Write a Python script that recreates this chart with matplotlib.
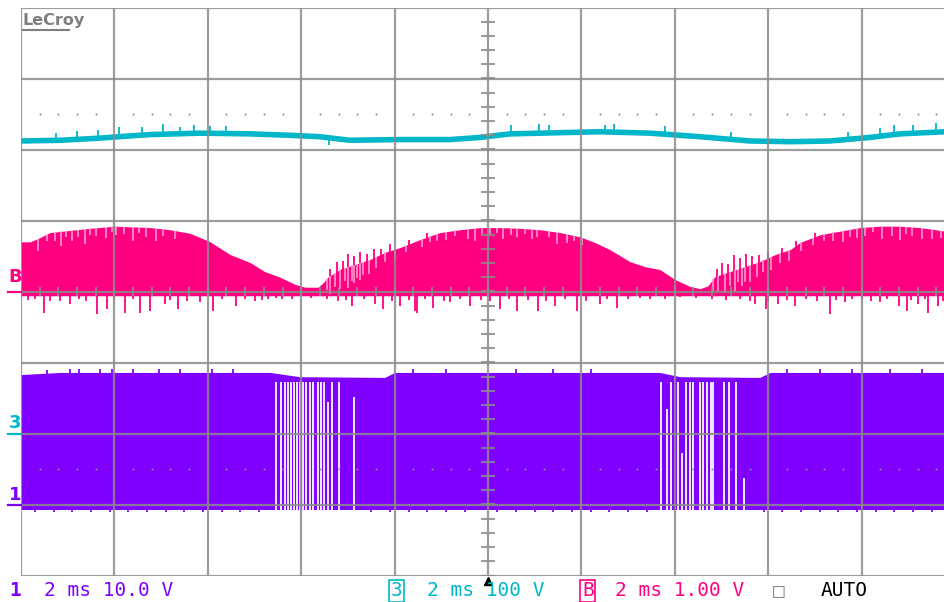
import numpy as np
import matplotlib.pyplot as plt
from matplotlib.collections import LineCollection

# scope settings: 2 ms/div, 10 x 8 divisions
ms_per_div = 2.0
pink_scale, pink_gnd = 1.0, 0.0      # trace B, 1.00 V/div
cyan_scale, cyan_gnd = 100.0, -2.0   # trace 3, 100 V/div
purp_scale, purp_gnd = 10.0, -3.0    # trace 1, 10.0 V/div

# trace 3 (cyan) - level in volts
cyan_t = [0.00, 0.84, 1.69, 2.30, 2.76, 3.83, 4.90, 5.76, 6.40, 7.04, 8.12, 9.19,
          9.83, 10.47, 11.11, 12.40, 13.47, 14.54, 15.61, 16.47, 17.32, 18.18, 18.82, 19.79]
cyan_v = [412, 413, 416, 419, 421, 423, 422, 420, 418, 413, 414, 414,
          417, 422, 423, 425, 423, 418, 412, 411, 412, 417, 422, 425]
cyan_spike_t = [0.75, 1.20, 1.65, 2.10, 2.60, 3.05, 3.40, 3.70, 4.05, 4.40, 6.60, 10.50,
                11.10, 11.30, 12.50, 12.70, 13.80, 15.20, 17.70, 18.40, 18.70, 19.10, 19.60]
cyan_spike_dv = [6, 8, 7, 9, 7, 10, 6, 8, 6, 7, -6, 8, 9, 7, 6, 8, 7, 6, 7, 8, 10, 7, 9]

# trace B (pink) - top of the switching envelope in volts
pink_t = [0.00, 0.20, 0.41, 0.62, 1.05, 1.48, 2.01, 2.76, 3.19, 3.62, 4.05, 4.48, 4.90,
          5.22, 5.55, 5.87, 6.08, 6.36, 6.45, 6.57, 6.83, 7.15, 7.47, 7.79, 8.12, 8.54,
          8.97, 9.40, 9.83, 10.26, 10.69, 11.11, 11.54, 11.97, 12.29, 12.61, 13.04, 13.36,
          13.68, 14.00, 14.33, 14.54, 14.71, 14.86, 15.18, 15.50, 15.82, 16.15, 16.47,
          16.68, 17.11, 17.54, 17.97, 18.39, 18.82, 19.25, 19.79]
pink_v = [0.70, 0.70, 0.76, 0.83, 0.86, 0.89, 0.92, 0.90, 0.87, 0.82, 0.70, 0.52, 0.41,
          0.28, 0.20, 0.10, 0.06, 0.06, 0.11, 0.20, 0.31, 0.38, 0.45, 0.55, 0.62, 0.73,
          0.83, 0.87, 0.90, 0.90, 0.89, 0.87, 0.83, 0.77, 0.69, 0.59, 0.42, 0.35,
          0.31, 0.17, 0.07, 0.04, 0.08, 0.21, 0.28, 0.35, 0.42, 0.52, 0.59,
          0.69, 0.80, 0.85, 0.90, 0.92, 0.92, 0.90, 0.85]
pink_base = -0.06
pink_spike_t = [0.49, 0.84, 1.05, 1.63, 1.84, 2.23, 2.55, 2.76, 3.08, 3.36, 3.83, 4.11,
                4.60, 5.01, 5.29, 5.59, 6.79, 7.09, 7.58, 7.75, 8.12, 8.44, 8.48, 8.82,
                9.19, 9.61, 10.26, 10.62, 11.07, 11.43, 11.91, 12.40, 12.76, 13.47, 14.11,
                15.61, 15.72, 15.95, 16.21, 16.57, 17.32, 17.64, 18.01, 18.39, 18.80,
                18.97, 19.21, 19.42, 19.64]
pink_spike_v = [-0.30, -0.14, -0.18, -0.32, -0.24, -0.30, -0.30, -0.28, -0.18, -0.25,
                -0.15, -0.27, -0.21, -0.13, -0.11, -0.10, -0.14, -0.20, -0.17, -0.25,
                -0.20, -0.28, -0.30, -0.23, -0.15, -0.20, -0.25, -0.28, -0.28, -0.20,
                -0.28, -0.18, -0.23, -0.11, -0.08, -0.14, -0.18, -0.25, -0.18, -0.21,
                -0.32, -0.15, -0.11, -0.15, -0.21, -0.28, -0.18, -0.30, -0.20]
# short ticks just under the baseline
small_spike_t = [0.15, 0.30, 0.62, 1.25, 1.40, 2.00, 2.40, 3.20, 3.55, 4.30, 4.80, 5.15,
                 5.45, 5.80, 6.20, 6.55, 6.95, 7.35, 7.95, 8.30, 8.65, 9.05, 9.40, 9.85,
                 10.05, 10.45, 10.85, 11.25, 11.65, 12.10, 12.55, 13.00, 13.25, 13.80,
                 14.45, 14.80, 15.10, 15.40, 16.00, 16.40, 16.80, 17.05, 17.45, 17.80,
                 18.20, 18.55, 19.05, 19.35, 19.75]
small_spike_v = [-0.12, -0.10, -0.13, -0.11, -0.14, -0.12, -0.10, -0.12, -0.14, -0.11,
                 -0.10, -0.12, -0.09, -0.10, -0.09, -0.10, -0.12, -0.11, -0.13, -0.12,
                 -0.10, -0.14, -0.11, -0.12, -0.13, -0.10, -0.12, -0.14, -0.11, -0.13,
                 -0.10, -0.11, -0.09, -0.10, -0.09, -0.11, -0.12, -0.10, -0.13, -0.12,
                 -0.11, -0.14, -0.12, -0.10, -0.13, -0.11, -0.12, -0.10, -0.13]
# spikes poking above the envelope on the rising edges
up_spike_t = [6.62, 6.76, 6.90, 7.00, 7.12, 7.25, 7.40, 7.55, 7.70, 7.90, 8.30, 8.70,
              14.90, 15.02, 15.14, 15.26, 15.40, 15.52, 15.66, 15.80, 16.00, 16.30,
              16.60, 17.00]
up_spike_dv = [0.10, 0.14, 0.10, 0.18, 0.12, 0.15, 0.10, 0.12, 0.08, 0.10, 0.06, 0.05,
               0.10, 0.16, 0.12, 0.22, 0.14, 0.18, 0.12, 0.10, 0.08, 0.06, 0.06, 0.05]
# light gaps cut into the top of the pink envelope: time, depth (V)
notch_t = [0.36, 0.55, 0.73, 0.85, 0.97, 1.09, 1.22, 1.37, 1.48, 1.60, 1.82, 1.95, 2.04,
           2.20, 2.39, 2.52, 2.68, 2.90, 3.05, 3.30,
           6.55, 6.62, 6.72, 6.83, 6.94, 7.00, 7.09, 7.13, 7.19, 7.26, 7.32, 7.45, 7.60,
           7.80, 8.00, 8.25,
           8.59, 8.75, 8.91, 9.10, 9.30, 9.57, 9.72, 9.87, 10.04, 10.20, 10.32, 10.50,
           10.62, 10.80, 10.94, 11.05, 11.30, 11.48, 11.69, 11.85, 12.01,
           14.82, 14.93, 15.08, 15.18, 15.29, 15.35, 15.44, 15.50, 15.61, 15.76, 15.88,
           16.05, 16.25, 16.45, 16.70, 16.95,
           17.20, 17.39, 17.60, 17.75, 17.90, 18.07, 18.25, 18.44, 18.65, 18.82, 18.95,
           19.08, 19.29, 19.50, 19.70]
notch_d = [0.18, 0.10, 0.12, 0.20, 0.08, 0.15, 0.10, 0.22, 0.10, 0.12, 0.16, 0.08, 0.12,
           0.10, 0.20, 0.08, 0.14, 0.18, 0.10, 0.12,
           0.16, 0.25, 0.20, 0.28, 0.18, 0.30, 0.22, 0.26, 0.20, 0.24, 0.18, 0.20, 0.16,
           0.14, 0.12, 0.10,
           0.12, 0.08, 0.10, 0.12, 0.08, 0.14, 0.18, 0.12, 0.10, 0.08, 0.16, 0.10,
           0.12, 0.08, 0.14, 0.10, 0.08, 0.16, 0.12, 0.08, 0.10,
           0.18, 0.22, 0.28, 0.20, 0.30, 0.18, 0.26, 0.22, 0.24, 0.20, 0.16,
           0.18, 0.14, 0.16, 0.12, 0.10,
           0.10, 0.12, 0.16, 0.10, 0.14, 0.12, 0.08, 0.18, 0.14, 0.20, 0.10,
           0.12, 0.16, 0.14, 0.10]

# trace 1 (purple) - gate drive band in volts
purp_t = [0.00, 0.84, 5.33, 5.97, 7.79, 8.00, 13.68, 14.11, 15.82, 16.04, 19.79]
purp_top = [18.3, 18.6, 18.6, 18.0, 17.9, 18.6, 18.6, 18.0, 17.9, 18.6, 18.6]
purp_bottom = -0.7
# switching pauses (white gaps): time, top of gap (V)
gap_t = [5.46, 5.56, 5.65, 5.72, 5.78, 5.85, 5.91, 5.97, 6.03, 6.10, 6.19, 6.26, 6.37,
         6.42, 6.49, 6.58, 6.67, 6.80, 7.13,
         13.70, 13.83, 13.91, 14.07, 14.16, 14.25, 14.33, 14.40, 14.54, 14.61, 14.70,
         14.78, 14.82, 15.06, 15.17, 15.31, 15.49]
gap_top = [17.3, 17.3, 17.3, 17.3, 17.3, 17.3, 17.3, 17.3, 17.3, 17.3, 17.3, 17.3, 17.3,
           17.3, 17.3, 14.4, 17.3, 17.3, 15.2,
           17.3, 13.4, 17.3, 17.3, 7.3, 17.3, 17.3, 17.3, 17.3, 17.3, 17.3,
           17.3, 17.3, 17.3, 17.3, 17.3, 3.8]
# little ticks sticking out of the band's top and bottom edges
purp_tick_t = [0.55, 1.05, 1.25, 1.70, 1.95, 2.40, 2.95, 3.40, 4.10, 4.55, 8.40, 9.10,
               10.60, 11.40, 12.20, 16.40, 17.10, 17.80, 18.60, 19.30]
purp_bot_tick_t = [0.30, 0.70, 1.10, 1.50, 1.90, 2.30, 2.70, 3.10, 3.50, 3.90, 4.30, 4.70,
                   5.10, 7.50, 7.90, 8.30, 8.70, 9.10, 9.50, 10.20, 10.60, 11.00, 11.40,
                   11.80, 12.20, 12.60, 13.00, 13.40, 15.90, 16.30, 16.70, 17.10, 17.50,
                   17.90, 18.30, 18.70, 19.10, 19.50]

PINK = '#FF0080'
CYAN = '#00B7C9'
PURPLE = '#7F00FF'
GRID = '#8C8C8C'

W, H = 945, 602
fig = plt.figure(figsize=(W / 100, H / 100), dpi=100)
ax = fig.add_axes([21 / W, 26.5 / H, 934 / W, 568 / H])
ax.set_xlim(0, 10 * ms_per_div)
ax.set_ylim(-4, 4)
ax.axis('off')


def cdiv(v):
    return np.asarray(v) / cyan_scale + cyan_gnd


def pdiv(v):
    return np.asarray(v) / pink_scale + pink_gnd


def udiv(v):
    return np.asarray(v) / purp_scale + purp_gnd


# purple band
ax.fill_between(purp_t, udiv(purp_bottom), udiv(purp_top), color=PURPLE, lw=0, zorder=2)
ptop = np.interp(purp_tick_t, purp_t, purp_top)
pt = [[(t, udiv(v) - 0.01), (t, udiv(v) + 0.05)] for t, v in zip(purp_tick_t, ptop)]
pb = [[(t, udiv(purp_bottom) + 0.01), (t, udiv(purp_bottom) - 0.04)] for t in purp_bot_tick_t]
ax.add_collection(LineCollection(pt + pb, colors=PURPLE, linewidths=1.3, zorder=2))
gaps = [[(t, udiv(purp_bottom) - 0.02), (t, udiv(v))] for t, v in zip(gap_t, gap_top)]
ax.add_collection(LineCollection(gaps, colors='#F2ECFF', linewidths=1.4, zorder=3))

# pink envelope
ax.fill_between(pink_t, pdiv(pink_base), pdiv(pink_v), color=PINK, lw=0, zorder=2)
spk = [[(t, pdiv(pink_base)), (t, pdiv(v))] for t, v in
       zip(pink_spike_t + small_spike_t, pink_spike_v + small_spike_v)]
ax.add_collection(LineCollection(spk, colors=PINK, linewidths=1.3, zorder=2))
utop = np.interp(up_spike_t, pink_t, pink_v)
us = [[(t, pdiv(b - 0.02)), (t, pdiv(b + d))] for t, b, d in zip(up_spike_t, utop, up_spike_dv)]
ax.add_collection(LineCollection(us, colors=PINK, linewidths=1.3, zorder=2))
ntop = np.interp(notch_t, pink_t, pink_v)
nt = [[(t, pdiv(top - d)), (t, pdiv(top))] for t, top, d in zip(notch_t, ntop, notch_d)]
ax.add_collection(LineCollection(nt, colors='#FFA6D2', linewidths=1.1, zorder=3))

# cyan trace
ax.plot(cyan_t, cdiv(cyan_v), color=CYAN, lw=4.0, solid_capstyle='butt', zorder=2)
cbase = np.interp(cyan_spike_t, cyan_t, cyan_v)
cs = [[(t, cdiv(b)), (t, cdiv(b + d + np.sign(d) * 4))] for t, b, d in
      zip(cyan_spike_t, cbase, cyan_spike_dv)]
ax.add_collection(LineCollection(cs, colors=CYAN, linewidths=1.3, zorder=2))

# graticule
for k in range(11):
    ax.plot([k * ms_per_div] * 2, [-4, 4], color=GRID, lw=1.6, alpha=0.85, zorder=5)
for k in range(-4, 5):
    ax.plot([0, 20], [k, k], color=GRID, lw=1.6, alpha=0.85, zorder=5)
vt = [[(10 - 0.15, y), (10 + 0.15, y)] for y in np.arange(-4, 4.01, 0.2)]
ht = [[(x, -0.07), (x, 0.07)] for x in np.arange(0, 20.01, 0.4)]
ax.add_collection(LineCollection(vt + ht, colors=GRID, linewidths=1.5, alpha=0.85, zorder=5))
dots_x = [k * 0.4 for k in range(50) if k % 5 != 0]
for yy in (2.5, -2.5):
    ax.plot(dots_x, [yy] * len(dots_x), ls='none', marker='s', ms=1.3, mew=0,
            color='#8A8A8A', zorder=5)

# trigger marker
ax.plot([10], [-4.08], marker='^', ms=6, color='black', clip_on=False, zorder=6)


def fpx(x, y):
    return x / W, 1 - y / H


def fline(x0, x1, y, color, lw=1.6):
    fig.add_artist(plt.Line2D([x0 / W, x1 / W], [1 - y / H] * 2, color=color, lw=lw))


# LeCroy logo
fig.text(*fpx(23, 20), 'LeCroy', color='#7E7E7E', fontsize=11.5, fontweight='bold',
         va='center', ha='left')
fline(23, 69, 30, '#7E7E7E', 1.5)

# ground markers at the left
fig.text(*fpx(15, 277), 'B', color=PINK, fontsize=13, fontweight='bold',
         ha='center', va='center')
fline(8, 21, 292, PINK)
fig.text(*fpx(15, 423), '3', color=CYAN, fontsize=13, fontweight='bold',
         ha='center', va='center')
fline(8, 21, 433.5, CYAN)
fig.text(*fpx(15, 495), '1', color=PURPLE, fontsize=13, fontweight='bold',
         ha='center', va='center')
fline(8, 21, 505, PURPLE)

# bottom status line
mono = dict(family='DejaVu Sans Mono', fontsize=14, va='center', ha='left')
yb = 591
fig.text(*fpx(9, yb), '1', color=PURPLE, fontweight='bold', **mono)
fig.text(*fpx(44, yb), '2 ms 10.0 V', color=PURPLE, **mono)
fig.text(*fpx(391, yb), '3', color=CYAN,
         bbox=dict(boxstyle='square,pad=0.08', fc='none', ec=CYAN, lw=1.2), **mono)
fig.text(*fpx(427, yb), '2 ms 100 V', color=CYAN, **mono)
fig.text(*fpx(582, yb), 'B', color=PINK,
         bbox=dict(boxstyle='square,pad=0.08', fc='none', ec=PINK, lw=1.2), **mono)
fig.text(*fpx(615, yb), '2 ms 1.00 V', color=PINK, **mono)
fig.text(*fpx(773, yb), '\u25a1', color='#8A8A8A', **mono)
fig.text(*fpx(821, yb), 'AUTO', color='black', **mono)

fig.savefig('out.png', dpi=100)
